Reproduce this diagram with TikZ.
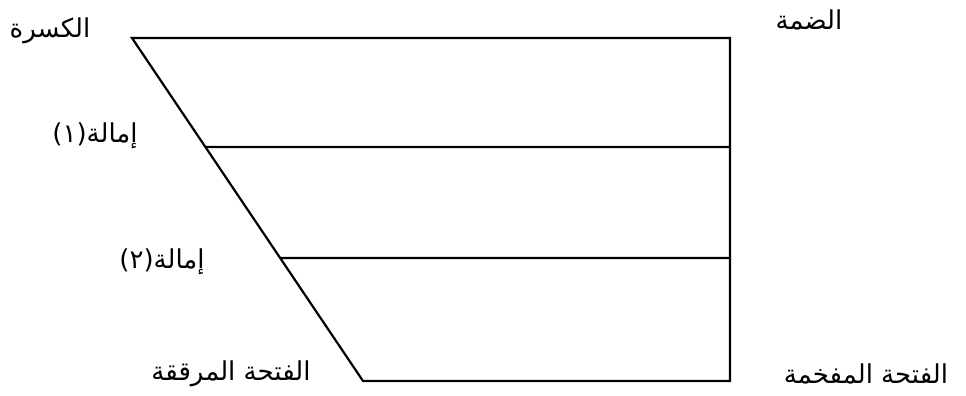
\documentclass[tikz,border=0pt]{standalone}
\usepackage{fontspec}
\usetikzlibrary{calc}
\newfontfamily\arabicfont[Script=Arabic]{DejaVu Sans}
\TeXXeTstate=1
\begin{document}
\begin{tikzpicture}[x=1pt,y=-1pt,
  edge/.style={line width=2.2pt,line cap=round,line join=miter},
  lbl/.style={font=\arabicfont\fontsize{26}{30}\selectfont,inner sep=0pt}]
\useasboundingbox (0,0) rectangle (966,396);
\coordinate (TL) at (132,38);
\coordinate (TR) at (730,38);
\coordinate (BL) at (363,381);
\coordinate (BR) at (730,381);
\coordinate (A1) at ($(TL)!0.3178!(BL)$);
\coordinate (A2) at ($(TL)!0.6414!(BL)$);
\coordinate (R1) at (730,147);
\coordinate (R2) at (730,258);
\draw[edge] (TL) -- (TR) -- (BR) -- (BL) -- cycle;
\draw[edge] (A1) -- (R1);
\draw[edge] (A2) -- (R2);
\node[lbl] (kasra) at (50,31) {\beginR الكسرة\endR};
\node[lbl] (damma) at (809,20) {\beginR الضمة\endR};
\node[lbl] (imala1) at (95,136) {\beginR إمالة(١)\endR};
\node[lbl] (imala2) at (162,262) {\beginR إمالة(٢)\endR};
\node[lbl] (muraqqaqa) at (231,374) {\beginR الفتحة المرققة\endR};
\node[lbl] (mufakhkhama) at (866,374) {\beginR الفتحة المفخمة\endR};
\end{tikzpicture}
\end{document}
